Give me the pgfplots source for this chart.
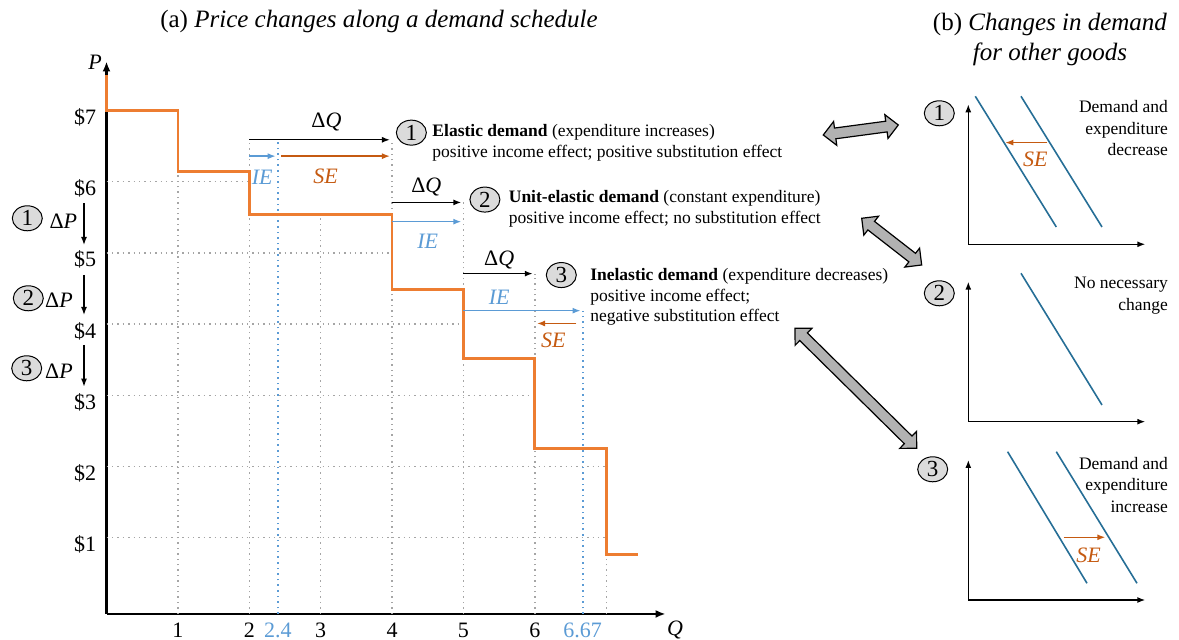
\documentclass[border=0pt]{standalone}
\usepackage{fontspec}
\setmainfont{Liberation Serif}
\usepackage{pgfplots}
\pgfplotsset{compat=1.18}
\usetikzlibrary{arrows.meta,shapes.geometric,shapes.arrows}

\definecolor{steporange}{RGB}{237,125,49}
\definecolor{seorange}{RGB}{197,90,17}
\definecolor{ieblue}{RGB}{91,155,213}
\definecolor{curveblue}{RGB}{38,110,150}
\definecolor{gridgray}{RGB}{165,165,165}

\newcommand{\IE}{\textit{IE}}
\newcommand{\SE}{\textit{SE}}
\newcommand{\dQ}{Δ\textit{Q}}
\newcommand{\dP}{Δ\textit{P}}

\tikzset{arr/.style={line width=0.7pt, -{Latex[length=4pt,width=3pt]}}}
\pgfplotsset{
  panel/.style={anchor=south west, x=0.5pt, y=0.5pt,
    xmin=0, xmax=177, ymin=0, ymax=140,
    axis lines=left, ticks=none, clip=false,
    axis line style={line width=0.7pt, -{Latex[length=4pt,width=3pt]}}},
}

\begin{document}
\begin{tikzpicture}[x=0.5pt, y=0.5pt, font=\fontsize{8.75}{10.3}\selectfont,
  num/.style={ellipse, draw, line width=0.5pt, fill=gray!28, inner sep=0pt,
    minimum width=15pt, minimum height=12.5pt, font=\fontsize{11.5}{11.5}\selectfont},
  big/.style={font=\fontsize{11}{12}\selectfont},
  fat/.style={double arrow, draw=black, line width=0.6pt, fill=gray!60,
    inner xsep=0pt, inner ysep=2.4pt, double arrow head extend=3.3pt}]
\useasboundingbox (0,0) rectangle (1179,640);

% (a) demand schedule
\begin{axis}[at={(53.25pt,15.5pt)}, anchor=origin,
  x=35.7pt, y=35.6pt, xmin=0, xmax=7.83, ymin=-0.07, ymax=7.69,
  axis lines=left,
  axis line style={line width=1.3pt, -{Latex[length=5pt,width=4pt]}},
  clip=false, major tick length=0pt,
  xtick={1,2,3,4,5,6}, xticklabels={1,2,3,4,5,6},
  extra x ticks={2.4,6.67}, extra x tick labels={2.4,6.67},
  extra x tick style={tick label style={text=ieblue}},
  ytick={1,2,3,4,5,6,7}, yticklabels={\$1,\$2,\$3,\$4,\$5,\$6,\$7},
  tick label style={font=\fontsize{11}{12}\selectfont},
  xticklabel style={yshift=-1pt},
  yticklabel style={anchor=east, inner xsep=5pt, text height=14pt, text depth=0pt},
  unbounded coords=jump]

\addplot[gridgray, dotted, line width=0.7pt] coordinates {
  (0,6)(2,6) (nan,nan) (0,5)(4,5) (nan,nan) (0,4)(5,4) (nan,nan)
  (0,3)(6,3) (nan,nan) (0,2)(7,2) (nan,nan) (0,1)(7,1) (nan,nan)
  (1,-0.07)(1,6.15) (nan,nan) (2,-0.07)(2,6.59) (nan,nan)
  (3,-0.07)(3,5.54) (nan,nan) (4,-0.07)(4,6.59) (nan,nan)
  (5,-0.07)(5,5.71) (nan,nan) (6,-0.07)(6,4.71) (nan,nan)
  (7,-0.07)(7,0.77)};
\addplot[ieblue, dotted, line width=0.8pt] coordinates {
  (2.4,-0.07)(2.4,6.59) (nan,nan) (6.67,-0.07)(6.67,4.19)};

\addplot[steporange, line width=1.4pt] coordinates {
  (0,7.5)(0,7)(1,7)(1,6.15)(2,6.15)(2,5.54)(4,5.54)(4,4.49)
  (5,4.49)(5,3.52)(6,3.52)(6,2.25)(7,2.25)(7,0.77)(7.45,0.77)};

% quantity changes
\addplot[arr, black] coordinates {(2,6.59)(3.97,6.59)};
\addplot[arr, ieblue] coordinates {(2,6.36)(2.37,6.36)};
\addplot[arr, seorange] coordinates {(2.45,6.36)(3.97,6.36)};
\addplot[arr, black] coordinates {(4,5.71)(4.97,5.71)};
\addplot[arr, ieblue] coordinates {(4,5.44)(4.97,5.44)};
\addplot[arr, black] coordinates {(5,4.71)(5.97,4.71)};
\addplot[arr, ieblue] coordinates {(5,4.19)(6.64,4.19)};
\addplot[arr, seorange] coordinates {(6.58,4.01)(6.03,4.01)};

\node[big] at (axis cs:3.08,6.84) {\dQ};
\node[big, text=ieblue] at (axis cs:2.18,6.07) {\IE};
\node[big, text=seorange] at (axis cs:3.07,6.07) {\SE};
\node[big] at (axis cs:4.48,5.93) {\dQ};
\node[big, text=ieblue] at (axis cs:4.5,5.17) {\IE};
\node[big] at (axis cs:5.5,4.90) {\dQ};
\node[big, text=ieblue] at (axis cs:5.5,4.38) {\IE};
\node[big, text=seorange] at (axis cs:6.26,3.77) {\SE};

\node[num] at (axis cs:4.27,6.69) {1};
\node[anchor=west, align=left, inner sep=0pt] at (axis cs:4.56,6.545)
  {\textbf{Elastic demand} (expenditure increases)\\positive income effect; positive substitution effect};
\node[num] at (axis cs:5.30,5.75) {2};
\node[anchor=west, align=left, inner sep=0pt] at (axis cs:5.63,5.62)
  {\textbf{Unit-elastic demand} (constant expenditure)\\positive income effect; no substitution effect};
\node[num] at (axis cs:6.37,4.69) {3};
\node[anchor=west, align=left, inner sep=0pt] at (axis cs:6.77,4.38)
  {\textbf{Inelastic demand} (expenditure decreases)\\positive income effect;\\negative substitution effect};
\end{axis}

% (b) other goods
\begin{axis}[panel, at={(484.15pt,197.85pt)}]
\addplot[curveblue, line width=0.8pt] coordinates {(7,148)(88,17.3)};
\addplot[curveblue, line width=0.8pt] coordinates {(52.7,148)(133.7,17.3)};
\addplot[arr, seorange] coordinates {(78.7,101.7)(37,101.7)};
\node[big, text=seorange] at (axis cs:67,85) {\SE};
\end{axis}

\begin{axis}[panel, at={(484.15pt,109.15pt)}]
\addplot[curveblue, line width=0.8pt] coordinates {(52.7,148.4)(133.7,16.7)};
\end{axis}

\begin{axis}[panel, at={(484.15pt,20pt)}]
\addplot[curveblue, line width=0.8pt] coordinates {(39.3,148.3)(118.7,16.7)};
\addplot[curveblue, line width=0.8pt] coordinates {(88,148.3)(168.7,16.7)};
\addplot[arr, seorange] coordinates {(95.3,62.7)(137,62.7)};
\node[big, text=seorange] at (axis cs:120.3,45) {\SE};
\end{axis}

% titles and labels
\node[font=\fontsize{12.5}{15}\selectfont] at (379,618) {(a) \textit{Price changes along a demand schedule}};
\node[font=\fontsize{12.5}{15}\selectfont, align=center] at (1050,600) {(b) \textit{Changes in demand}\\\textit{for other goods}};
\node[big] at (95,578) {\textit{P}};
\node[big] at (675,10) {\textit{Q}};

\node[num] at (27.3,421.7) {1};
\node[big] at (63.3,418.3) {\dP};
\draw[arr] (84,436.7) -- (84,395);
\node[num] at (28.3,341.7) {2};
\node[big] at (59,339.3) {\dP};
\draw[arr] (84,365) -- (84,325);
\node[num] at (26.7,271.7) {3};
\node[big] at (59,268.3) {\dP};
\draw[arr] (84,295) -- (84,253.3);

\node[num] at (939.3,526.7) {1};
\node[num] at (939.3,346.7) {2};
\node[num] at (932.7,170.7) {3};
\node[anchor=east, align=right, font=\fontsize{8.75}{10.75}\selectfont] at (1175,511.7) {Demand and\\expenditure\\decrease};
\node[anchor=east, align=right, font=\fontsize{8.75}{10.75}\selectfont] at (1175,344.2) {No necessary\\change};
\node[anchor=east, align=right, font=\fontsize{8.75}{10.75}\selectfont] at (1175,155) {Demand and\\expenditure\\increase};

\node[fat, minimum height=37.85pt, rotate=7.6] at (860.8,510) {};
\node[fat, minimum height=38pt, rotate=-37.9] at (891.7,398.35) {};
\node[fat, minimum height=85.45pt, rotate=-44.6] at (855.85,251.7) {};
\end{tikzpicture}
\end{document}
